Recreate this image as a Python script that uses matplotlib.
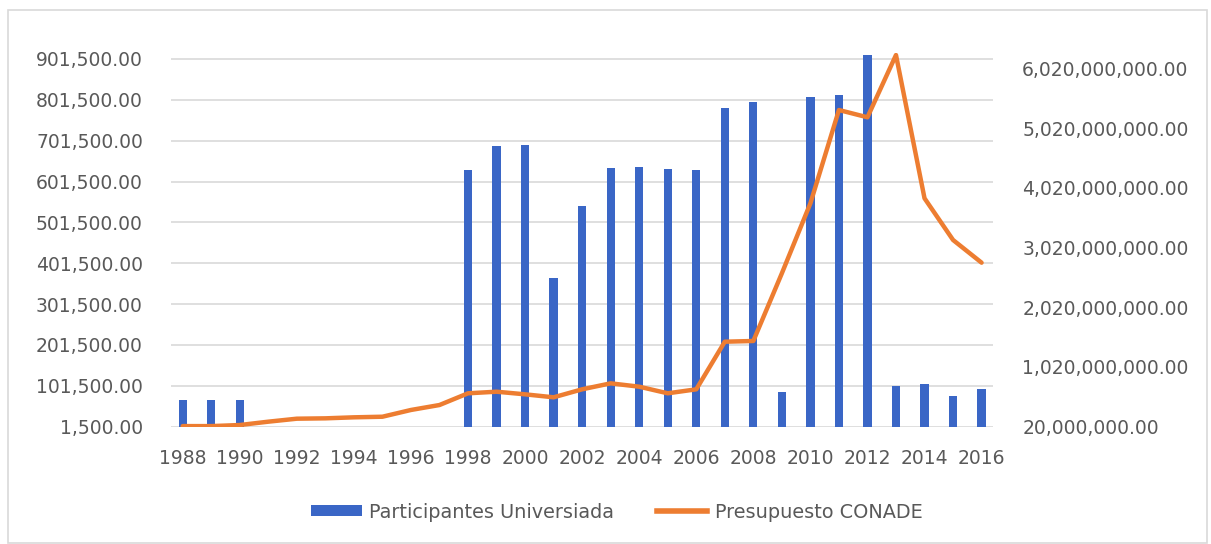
import numpy as np
import matplotlib
matplotlib.use("Agg")
import matplotlib.pyplot as plt
from matplotlib.patches import Rectangle, Patch
from matplotlib.lines import Line2D
from matplotlib.ticker import FuncFormatter

# Datos
years = list(range(1988, 2017))
participantes = [66800, 66800, 66800, np.nan, np.nan, np.nan, np.nan, np.nan,
                 np.nan, np.nan, 629000, 688500, 691700, 366200, 542400,
                 635400, 637800, 632200, 629000, 782200, 795400, 87200,
                 807700, 814000, 911200, 101800, 106000, 77400, 93000]
presupuesto = [30e6, 30e6, 48e6, 104e6, 154e6, 160e6, 177e6, 187e6,
               300e6, 383e6, 579e6, 606e6, 562e6, 512e6, 646e6,
               746e6, 690e6, 579e6, 646e6, 1443e6, 1455e6, 2588e6,
               3760e6, 5322e6, 5200e6, 6243e6, 3844e6, 3146e6, 2766e6]
left_ticks = [1500 + 100000 * i for i in range(10)]
right_ticks = [20e6 + 1e9 * i for i in range(7)]
xtick_years = list(range(1988, 2017, 2))

bar_color = "#3a66c6"
line_color = "#ed7d31"
text_color = "#595959"
grid_color = "#d9d9d9"

W, H = 1211, 544
fig = plt.figure(figsize=(W / 100, H / 100), dpi=100)
fig.patch.set_facecolor("white")

# marco del grafico
fig.patches.append(Rectangle((8 / W, 1 / H), (1207 - 8) / W, (534 - 1) / H,
                             transform=fig.transFigure, fill=False,
                             edgecolor=grid_color, lw=1.2))

ax = fig.add_axes([170.7 / W, (H - 426.7) / H, (993 - 170.7) / W, (426.7 - 53) / H])
ax2 = ax.twinx()

ax.bar(years, participantes, width=0.29, color=bar_color, zorder=2)
ax2.plot(years, presupuesto, color=line_color, lw=3.2, solid_capstyle="round",
         solid_joinstyle="round", zorder=3)

ax.set_xlim(1988 - 0.42, 2016 + 0.4)
ax.set_ylim(1500, 916100)
ax2.set_ylim(20e6, 6276.5e6)

ax.set_yticks(left_ticks)
ax2.set_yticks(right_ticks)
ax.set_xticks(xtick_years)
fmt = FuncFormatter(lambda v, p: f"{v:,.2f}")
ax.yaxis.set_major_formatter(fmt)
ax2.yaxis.set_major_formatter(fmt)

ax.grid(axis="y", color=grid_color, lw=1.2, zorder=0)
ax.set_axisbelow(True)

for a in (ax, ax2):
    for s in a.spines.values():
        s.set_visible(False)
    a.tick_params(length=0, labelsize=13.5, labelcolor=text_color)
ax.tick_params(axis="y", pad=20)
ax2.tick_params(axis="y", pad=21)
ax.tick_params(axis="x", pad=16)

handles = [Patch(facecolor=bar_color, edgecolor="none"),
           Line2D([0], [0], color=line_color, lw=4)]
fig.legend(handles, ["Participantes Universiada", "Presupuesto CONADE"],
           loc="center", bbox_to_anchor=(617 / W, (H - 512) / H), ncol=2,
           frameon=False, fontsize=13.9, labelcolor=text_color,
           handlelength=2.6, handleheight=0.55, handletextpad=0.4,
           columnspacing=2.2)

fig.savefig("out.png", dpi=100, facecolor="white")
